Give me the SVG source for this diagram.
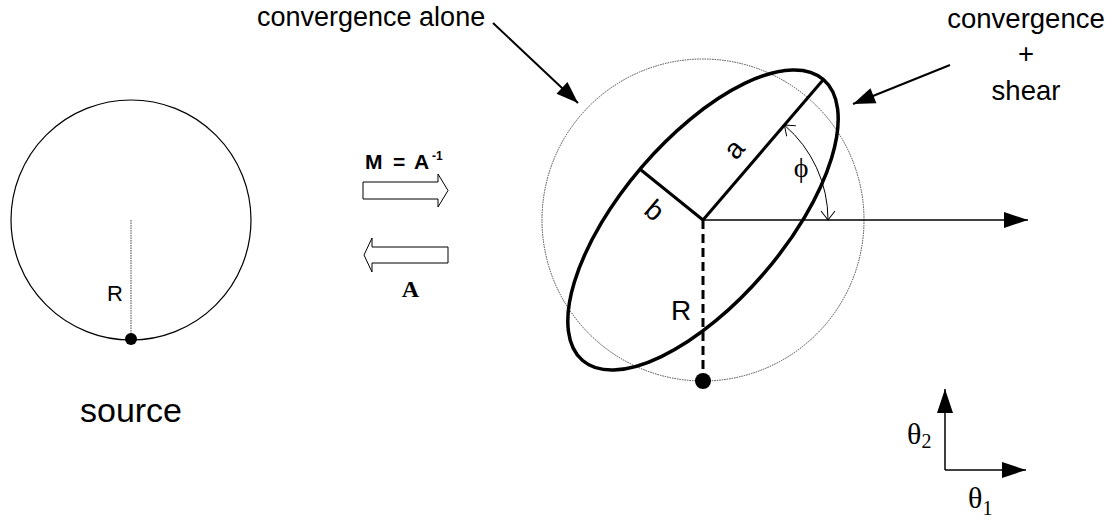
<svg xmlns="http://www.w3.org/2000/svg" width="1115" height="521" viewBox="0 0 1115 521">
<style>
.sans{font-family:"Liberation Sans",Arial,sans-serif;fill:#000}
.serif{font-family:"Liberation Serif","Times New Roman",serif;fill:#000}
.thin{fill:none;stroke:#000;stroke-width:1.2}
.thick{fill:none;stroke:#000;stroke-width:3.5}
.dotted{fill:none;stroke:#444;stroke-width:1;stroke-dasharray:1.5 1}
.block{fill:#fff;stroke:#000;stroke-width:1}
.ptr{fill:none;stroke:#000;stroke-width:2}
.ax{fill:none;stroke:#000;stroke-width:1.5}
</style>
<defs>
<marker id="tri" markerUnits="userSpaceOnUse" viewBox="-24 -10 26 20" refX="0" refY="0" markerWidth="26" markerHeight="20" orient="auto">
<path d="M-22,-8 L0,0 L-22,8 z" fill="#000"/>
</marker>
<marker id="axhead" markerUnits="userSpaceOnUse" viewBox="-26 -10 28 20" refX="0" refY="0" markerWidth="28" markerHeight="20" orient="auto">
<path d="M-24,-8 L0,0 L-24,8 z" fill="#000"/>
</marker>
<marker id="vee" markerUnits="userSpaceOnUse" viewBox="-12 -10 14 20" refX="0" refY="0" markerWidth="14" markerHeight="20" orient="auto-start-reverse">
<path d="M-9,-7 L0,0 L-9,7" fill="none" stroke="#000" stroke-width="1"/>
</marker>
</defs>
<rect width="1115" height="521" fill="#fff"/>

<g id="source">
<circle cx="131" cy="220" r="120" class="thin"/>
<line x1="131" y1="220" x2="131" y2="339" class="dotted"/>
<circle cx="131" cy="339" r="6" fill="#000"/>
<text x="107" y="301" class="sans" font-size="22">R</text>
<text x="131" y="422" class="sans" font-size="34" text-anchor="middle">source</text>
</g>

<g id="forward-map">
<path d="M363,182 H438 V174 L448,190.5 L438,207 V199 H363 z" class="block"/>
<text y="169" class="sans" font-size="21" font-weight="bold"><tspan x="365">M</tspan><tspan x="393">=</tspan><tspan x="414">A</tspan><tspan x="432" y="160" font-size="12">-1</tspan></text>
</g>

<g id="inverse-map">
<path d="M448,247 H372 V238 L364,255 L372,272 V263 H448 z" class="block"/>
<text x="410.5" y="297" class="serif" font-size="24" font-weight="bold" text-anchor="middle">A</text>
</g>

<g id="lensed-image">
<circle cx="703" cy="220" r="161" class="dotted"/>
<ellipse cx="703" cy="220" rx="185" ry="81" transform="rotate(-49.4 703 220)" class="thick"/>
<line x1="703" y1="220" x2="823" y2="80" stroke="#000" stroke-width="3"/>
<line x1="703" y1="220" x2="641" y2="170" stroke="#000" stroke-width="3"/>
<line x1="703" y1="220" x2="703" y2="378" stroke="#000" stroke-width="3" stroke-dasharray="9 5"/>
<circle cx="703" cy="381" r="8" fill="#000"/>
<text x="671" y="320" class="sans" font-size="28">R</text>
<text transform="translate(735 150) rotate(-49.4)" x="0" y="8" class="sans" font-size="28" text-anchor="middle">a</text>
<text transform="translate(655 210) rotate(40.6)" x="0" y="10" class="sans" font-size="28" text-anchor="middle">b</text>
<text x="801" y="177" class="serif" font-size="28" text-anchor="middle">ϕ</text>
</g>

<g id="axes">
<text x="907" y="444" class="serif" font-size="30">θ<tspan font-size="20" dy="4">2</tspan></text>
<text x="968" y="508" class="serif" font-size="30">θ<tspan font-size="20" dy="7">1</tspan></text>
</g>

<g id="labels">
<text x="257" y="26" class="sans" font-size="27">convergence alone</text>
<text x="1026" y="28" class="sans" font-size="27.5" text-anchor="middle">convergence</text>
<text x="1026" y="63" class="sans" font-size="27.5" text-anchor="middle">+</text>
<text x="1026" y="100" class="sans" font-size="27.5" text-anchor="middle">shear</text>
</g>

<g id="connectors">
<line x1="493" y1="23" x2="578" y2="103" class="ptr" marker-end="url(#tri)"/>
<line x1="950" y1="65" x2="853" y2="104" class="ptr" marker-end="url(#tri)"/>
<line x1="703" y1="220" x2="1028" y2="220" class="ax" marker-end="url(#axhead)"/>
<path d="M784.4,125.1 A125,125 0 0 1 828,220" fill="none" stroke="#000" stroke-width="1" marker-start="url(#vee)" marker-end="url(#vee)"/>
<line x1="945" y1="470" x2="945" y2="389" class="ax" marker-end="url(#axhead)"/>
<line x1="945" y1="470" x2="1026" y2="470" class="ax" marker-end="url(#axhead)"/>
</g>
</svg>
